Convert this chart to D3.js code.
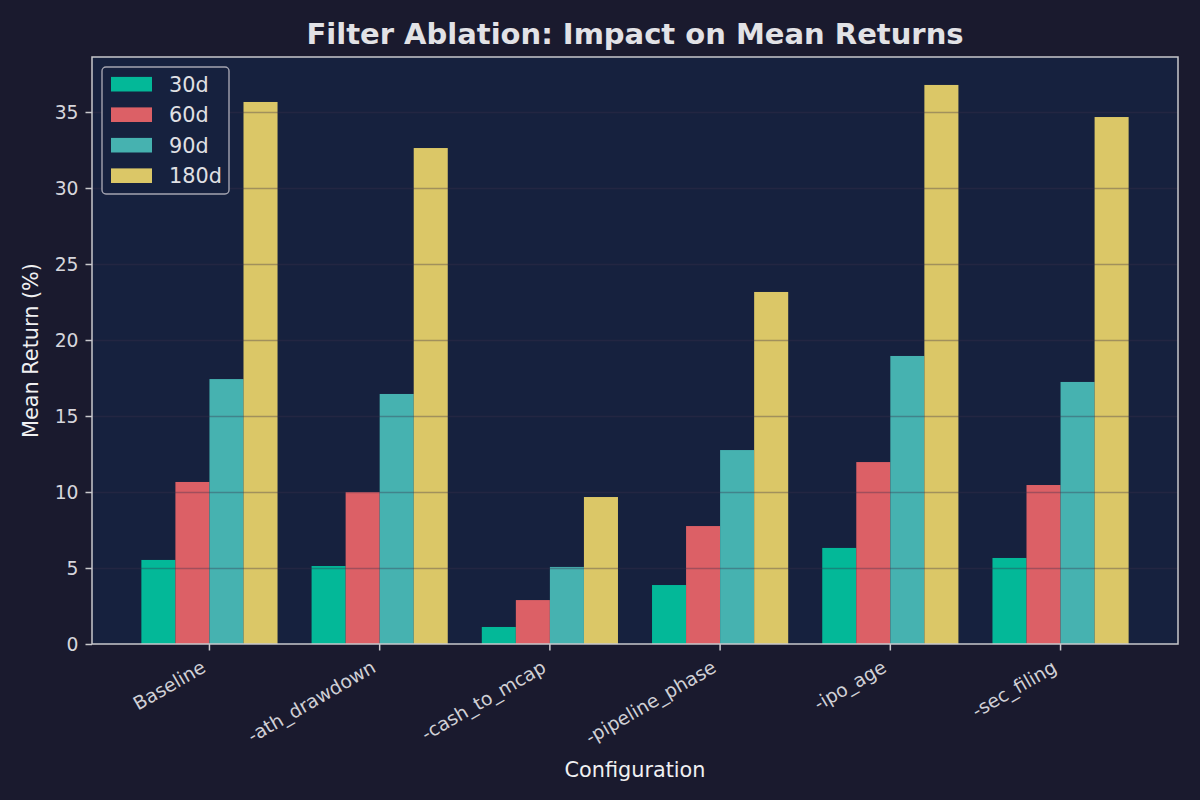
<!DOCTYPE html>
<html>
<head>
<meta charset="utf-8">
<script src="https://cdn.jsdelivr.net/npm/d3@7"></script>
<style>
html, body { margin: 0; padding: 0; background: #1a1a2e; }
svg { display: block; font-family: "DejaVu Sans", sans-serif; }
</style>
</head>
<body>
<div id="chart"></div>
<script>
// ----------------------------------------------------------
// DATA -----------------------------------------------------
// ----------------------------------------------------------
var categories = ["Baseline", "-ath_drawdown", "-cash_to_mcap", "-pipeline_phase", "-ipo_age", "-sec_filing"];
var series_names = ["30d", "60d", "90d", "180d"];
var values_30d = [5.53, 5.13, 1.12, 3.88, 6.32, 5.66];
var values_60d = [10.66, 10.0, 2.89, 7.76, 11.97, 10.46];
var values_90d = [17.43, 16.45, 5.07, 12.76, 18.95, 17.24];
var values_180d = [35.66, 32.63, 9.67, 23.16, 36.78, 34.67];
var y_ticks = [0, 5, 10, 15, 20, 25, 30, 35];

var series_values = [values_30d, values_60d, values_90d, values_180d];
var series_colors = ["#03b898", "#dc6066", "#46b2b0", "#dbc767"];

// ----------------------------------------------------------
// LAYOUT ---------------------------------------------------
// ----------------------------------------------------------
var W = 1200, H = 800;
var plot = { left: 92, right: 1178, top: 57, bottom: 644 };

var svg = d3.select("#chart").append("svg")
  .attr("width", W)
  .attr("height", H);

svg.append("rect")
  .attr("width", W).attr("height", H)
  .attr("fill", "#1a1a2e");

svg.append("rect")
  .attr("x", plot.left).attr("y", plot.top)
  .attr("width", plot.right - plot.left)
  .attr("height", plot.bottom - plot.top)
  .attr("fill", "#16213e");

// scales
var xScale = d3.scaleBand()
  .domain(categories)
  .range([plot.left, plot.right])
  .paddingInner(0.2)
  .paddingOuter(0.29);

var xInner = d3.scaleBand()
  .domain(series_names)
  .range([0, xScale.bandwidth()])
  .padding(0);

var yMax = d3.max(series_values, function(s) { return d3.max(s); }) * 1.05;
var yScale = d3.scaleLinear()
  .domain([0, yMax])
  .range([plot.bottom, plot.top]);

// ----------------------------------------------------------
// BARS -----------------------------------------------------
// ----------------------------------------------------------
var rows = categories.map(function(c, i) {
  return { cat: c, vals: series_names.map(function(s, j) { return { key: s, value: series_values[j][i] }; }) };
});

var groups = svg.append("g").attr("class", "bars")
  .selectAll("g")
  .data(rows)
  .enter().append("g")
  .attr("transform", function(d) { return "translate(" + xScale(d.cat) + ",0)"; });

groups.selectAll("rect")
  .data(function(d) { return d.vals; })
  .enter().append("rect")
  .attr("x", function(d) { return xInner(d.key); })
  .attr("width", xInner.bandwidth())
  .attr("y", function(d) { return yScale(d.value); })
  .attr("height", function(d) { return yScale(0) - yScale(d.value); })
  .attr("fill", function(d, j) { return series_colors[j]; });

// grid (drawn over the bars)
svg.append("g")
  .attr("class", "grid")
  .attr("transform", "translate(" + plot.left + ",0)")
  .call(d3.axisRight(yScale).tickValues(y_ticks.slice(1)).tickSize(plot.right - plot.left).tickFormat(""))
  .call(function(g) {
    g.select(".domain").remove();
    g.selectAll(".tick line")
      .attr("stroke", "#3a2f4c")
      .attr("stroke-opacity", 0.36)
      .attr("stroke-width", 1.3);
  });

// ----------------------------------------------------------
// AXES -----------------------------------------------------
// ----------------------------------------------------------
var spine_color = "#c8c8cc";

// y axis
svg.append("g")
  .attr("transform", "translate(" + plot.left + ",0)")
  .call(d3.axisLeft(yScale).tickValues(y_ticks).tickSize(6.5).tickPadding(7))
  .call(function(g) {
    g.select(".domain").remove();
    g.selectAll(".tick line").attr("stroke", spine_color).attr("stroke-width", 1.5);
    g.selectAll(".tick text")
      .attr("fill", "#d6d6dc")
      .attr("font-size", "18.75px")
      .attr("font-family", "DejaVu Sans")
      .attr("dy", "0.36em");
  });

// x axis
svg.append("g")
  .attr("transform", "translate(0," + plot.bottom + ")")
  .call(d3.axisBottom(xScale).tickSize(6.5))
  .call(function(g) {
    g.select(".domain").remove();
    g.selectAll(".tick line").attr("stroke", spine_color).attr("stroke-width", 1.5);
    g.selectAll(".tick text")
      .attr("fill", "#d0d0d6")
      .attr("font-size", "18.75px")
      .attr("font-family", "DejaVu Sans")
      .attr("text-anchor", "end")
      .attr("y", 0)
      .attr("dy", 0)
      .attr("transform", "translate(-2.5,27) rotate(-30)");
  });

// spines
svg.append("rect")
  .attr("x", plot.left).attr("y", plot.top)
  .attr("width", plot.right - plot.left)
  .attr("height", plot.bottom - plot.top)
  .attr("fill", "none")
  .attr("stroke", spine_color)
  .attr("stroke-width", 1.5);

// ----------------------------------------------------------
// LEGEND ---------------------------------------------------
// ----------------------------------------------------------
var legend = svg.append("g").attr("class", "legend");
legend.append("rect")
  .attr("x", 102).attr("y", 67)
  .attr("width", 127).attr("height", 127)
  .attr("rx", 4)
  .attr("fill", "#16213e")
  .attr("stroke", "#a4a4b0")
  .attr("stroke-width", 1.4);

var items = legend.selectAll(".item")
  .data(series_names)
  .enter().append("g")
  .attr("transform", function(d, i) { return "translate(0," + (91.5 + i * 30.5) + ")"; });

items.append("rect")
  .attr("x", 111).attr("y", -14.6)
  .attr("width", 41).attr("height", 14.6)
  .attr("fill", function(d, i) { return series_colors[i]; });

items.append("text")
  .attr("x", 169)
  .attr("y", 0)
  .attr("font-size", "20.8px")
  .attr("fill", "#e0e0e4")
  .text(function(d) { return d; });

// ----------------------------------------------------------
// TEXT -----------------------------------------------------
// ----------------------------------------------------------
svg.append("text")
  .attr("x", (plot.left + plot.right) / 2)
  .attr("y", 44)
  .attr("text-anchor", "middle")
  .attr("font-size", "29px")
  .attr("font-weight", "bold")
  .attr("fill", "#e2e2e6")
  .text("Filter Ablation: Impact on Mean Returns");

svg.append("text")
  .attr("x", (plot.left + plot.right) / 2)
  .attr("y", 777)
  .attr("text-anchor", "middle")
  .attr("font-size", "20.8px")
  .attr("fill", "#f0f0f2")
  .text("Configuration");

svg.append("text")
  .attr("transform", "translate(38," + (plot.top + plot.bottom) / 2 + ") rotate(-90)")
  .attr("text-anchor", "middle")
  .attr("font-size", "20.8px")
  .attr("fill", "#f0f0f2")
  .text("Mean Return (%)");
</script>
</body>
</html>
